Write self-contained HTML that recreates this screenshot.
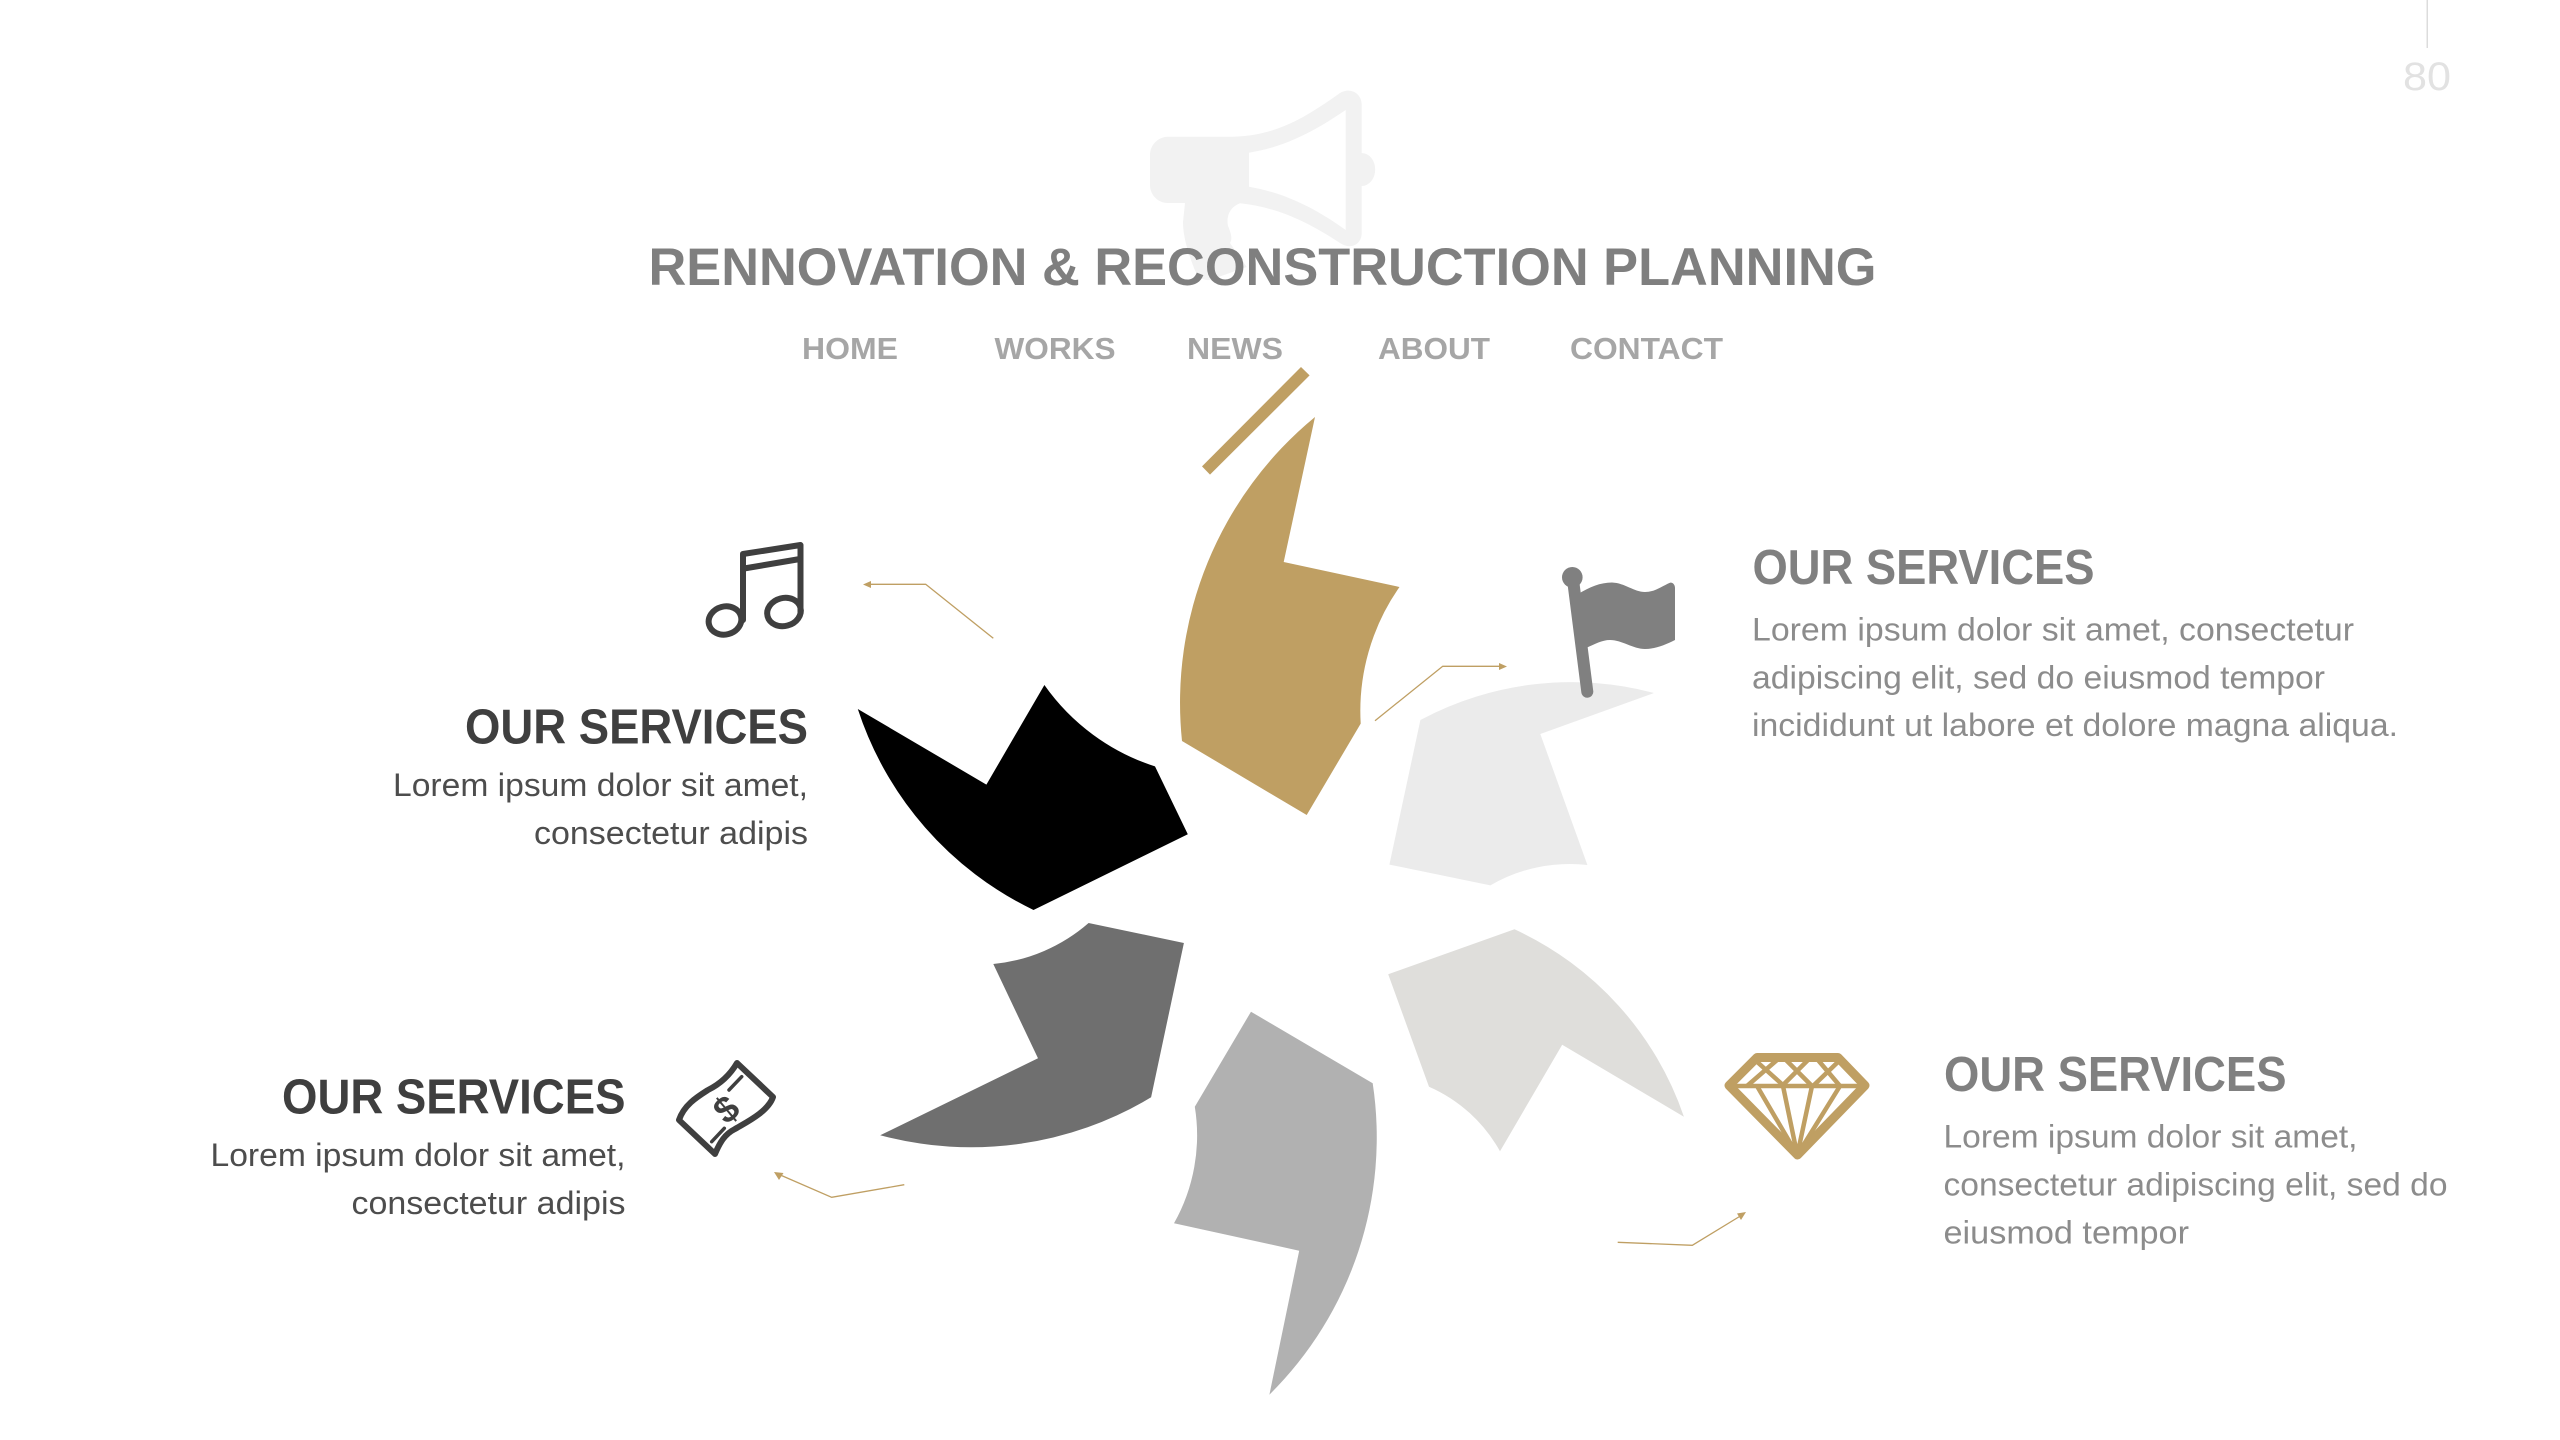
<!DOCTYPE html>
<html lang="en"><head><meta charset="utf-8"><title>Rennovation &amp; Reconstruction Planning</title>
<style>
html,body{margin:0;padding:0;background:#fff;width:2560px;height:1440px;overflow:hidden}
svg{display:block}
text{font-family:"Liberation Sans",sans-serif}
.h{font-weight:700;font-size:49px}
.b{font-size:32px}
.n{font-weight:700;font-size:31px;fill:#a6a6a6}
.a{fill:none;stroke:#bf9f63;stroke-width:1.3}
</style></head><body>
<svg width="2560" height="1440" viewBox="0 0 2560 1440" xmlns="http://www.w3.org/2000/svg">
<!-- page number -->
<rect x="2426.5" y="0" width="1.5" height="48" fill="#dcdcdc"/>
<text x="2403" y="90" font-size="40" fill="#e2e2e2" textLength="48" lengthAdjust="spacingAndGlyphs">80</text>

<!-- megaphone -->
<path fill="#f2f2f2" fill-rule="evenodd" d="M1168,136.7 L1233,136.7 C1275,136 1305,118 1340,93 C1350,87 1361.7,93 1361.7,105 L1361.7,153 A13.5,16.5 0 0 1 1361.7,186 L1361.7,233 C1361.7,245 1350,250 1340,243 C1305,220 1275,207 1240,203.3 C1230,207 1226,216 1228,226 C1232,235 1232,240 1230,243 C1236,252 1242,260 1246.7,267 L1210,280 C1202,281 1197,276 1194,268 C1187,250 1183,235 1183,222 L1185,203 L1168,203 C1158,203 1150,195 1150,185 L1150,155 C1150,145 1158,136.7 1168,136.7 Z M1249,152.7 C1285,147 1315,131 1345.7,110 L1345.7,230 C1315,208 1285,193 1249,186.7 Z"/>

<!-- title -->
<text x="648.5" y="285" font-size="53" font-weight="700" fill="#7f7f7f" textLength="1228" lengthAdjust="spacingAndGlyphs">RENNOVATION &amp; RECONSTRUCTION PLANNING</text>
<text class="n" x="802" y="359" textLength="96" lengthAdjust="spacingAndGlyphs">HOME</text>
<text class="n" x="994.5" y="359" textLength="121" lengthAdjust="spacingAndGlyphs">WORKS</text>
<text class="n" x="1187" y="359" textLength="96" lengthAdjust="spacingAndGlyphs">NEWS</text>
<text class="n" x="1378" y="359" textLength="112" lengthAdjust="spacingAndGlyphs">ABOUT</text>
<text class="n" x="1570" y="359" textLength="153" lengthAdjust="spacingAndGlyphs">CONTACT</text>

<!-- gold bar -->
<polygon fill="#bf9f63" points="1301,367 1309.6,375.4 1210,474.6 1202,466.4"/>

<!-- petals -->
<path fill="#bf9f63" d="M1182,741 A370,370 0 0 1 1315,417 L1283.7,562 L1399.5,587 A216,216 0 0 0 1360.7,723.6 L1306.7,815 Z"/>
<path fill="#000000" d="M857.8,709 L986.4,784.6 L1044.4,685 A216,216 0 0 0 1155,766.4 L1187.8,834.3 L1033.5,910 A340,340 0 0 1 857.8,709 Z"/>
<path fill="#ebebeb" d="M1420.4,720 A320,320 0 0 1 1654,693 L1540.3,734 L1587.4,865 A157,157 0 0 0 1490.4,885.4 L1389.4,864.6 Z"/>
<path fill="#dfdedb" d="M1514.5,929.3 A320,320 0 0 1 1683.9,1116.7 L1562.2,1044.7 L1500,1151.3 A150,150 0 0 0 1429,1086.7 L1388.2,974.3 Z"/>
<path fill="#b1b1b1" d="M1251,1011.7 L1372.7,1083.3 A362,362 0 0 1 1269.4,1394.7 L1299.2,1250.7 L1174,1223.3 A179,179 0 0 0 1194.8,1106.7 Z"/>
<path fill="#6f6f6f" d="M1088.6,923 L1183.9,943 L1151.1,1097.3 A350,350 0 0 1 880.2,1135.3 L1038,1058.3 L993.3,964 A170,170 0 0 0 1088.6,923 Z"/>

<!-- arrows -->
<polyline class="a" points="993.3,638.3 925.7,584.3 870,584.3"/>
<polygon fill="#bf9f63" points="863,584.5 871,581 871,588"/>
<polyline class="a" points="1375,720.7 1442.7,666.3 1500,666.3"/>
<polygon fill="#bf9f63" points="1507,666.5 1499,663 1499,670"/>
<polyline class="a" points="904.3,1184.7 831.7,1197.3 778,1174"/>
<polygon fill="#bf9f63" points="774,1172 783.5,1173 779,1180"/>
<polyline class="a" points="1617.7,1242.3 1692.3,1245.3 1742,1215"/>
<polygon fill="#bf9f63" points="1746,1212 1741,1220 1737,1213.5"/>

<!-- music icon -->
<g fill="none" stroke="#3f3f3f" stroke-width="6" stroke-linejoin="round" stroke-linecap="round">
<ellipse cx="725" cy="620.5" rx="16.5" ry="14" transform="rotate(-15 725 620.5)"/>
<ellipse cx="784" cy="612" rx="17" ry="14" transform="rotate(-15 784 612)"/>
<path d="M743,620 L743,554 L800.5,545 L800.5,612"/>
<path d="M744,568.5 L800,559" stroke-linecap="butt"/>
</g>

<!-- flag icon -->
<g fill="#808080">
<circle cx="1572.3" cy="577.3" r="10.3"/>
<path d="M1573.3,582 L1587.3,691.7" stroke="#808080" stroke-width="12" stroke-linecap="round" fill="none"/>
<path d="M1578,594 C1590,587 1600,582.5 1612,582.5 C1625,583 1634,592 1645,592 C1655,592 1662,586 1670,582.7 C1673,582 1675,585 1675,588 L1675,640 C1665,645 1655,649 1645,649 C1633,649 1622,640 1610,640 C1602,640 1595,644 1586,648 Z"/>
</g>

<!-- money icon -->
<g fill="none" stroke="#3f3f3f" stroke-width="6" stroke-linejoin="round" stroke-linecap="round">
<path d="M737,1063 L773,1097 C768,1112 745,1123 735,1129 C725,1134 720,1142 715,1154 L679,1120 C684,1105 697,1097 708,1090 C720,1084 730,1075 737,1063 Z"/>
<path d="M729,1090 L741.7,1076.7" stroke-width="3.5"/>
<path d="M711.7,1141.7 L724.3,1128.3" stroke-width="3.5"/>
</g>
<text x="726" y="1122" font-size="37" font-weight="700" fill="#3f3f3f" text-anchor="middle" transform="rotate(-40 726 1109)">$</text>

<!-- diamond icon -->
<g fill="none" stroke="#bf9f63" stroke-linejoin="round">
<polygon points="1757,1057.5 1838,1057.5 1865,1085.5 1797.5,1155 1729,1085.5" stroke-width="9"/>
<g stroke-width="4.5">
<path d="M1729,1086 L1865,1086"/>
<path d="M1755,1060 L1784,1086 M1777,1060 L1747,1086 M1786,1060 L1812,1086 M1808,1060 L1782,1086 M1818,1060 L1840,1086 M1840,1060 L1813,1086"/>
<path d="M1797.3,1155 L1757,1086 M1797.3,1155 L1783,1086 M1797.3,1155 L1812,1086 M1797.3,1155 L1840,1086"/>
</g>
</g>

<!-- left block top -->
<text class="h" x="465" y="743.5" fill="#3f3f3f" textLength="343" lengthAdjust="spacingAndGlyphs">OUR SERVICES</text>
<text class="b" x="393" y="796" fill="#4d4d4d" textLength="415" lengthAdjust="spacingAndGlyphs">Lorem ipsum dolor sit amet,</text>
<text class="b" x="534" y="844" fill="#4d4d4d" textLength="274" lengthAdjust="spacingAndGlyphs">consectetur adipis</text>

<!-- left block bottom -->
<text class="h" x="282" y="1113.5" fill="#3f3f3f" textLength="343.5" lengthAdjust="spacingAndGlyphs">OUR SERVICES</text>
<text class="b" x="210.5" y="1166" fill="#4d4d4d" textLength="415" lengthAdjust="spacingAndGlyphs">Lorem ipsum dolor sit amet,</text>
<text class="b" x="351.5" y="1214" fill="#4d4d4d" textLength="274" lengthAdjust="spacingAndGlyphs">consectetur adipis</text>

<!-- right block top -->
<text class="h" x="1752.5" y="584" fill="#808080" textLength="342" lengthAdjust="spacingAndGlyphs">OUR SERVICES</text>
<text class="b" x="1752" y="640.5" fill="#8c8c8c" textLength="602" lengthAdjust="spacingAndGlyphs">Lorem ipsum dolor sit amet, consectetur</text>
<text class="b" x="1752" y="688.5" fill="#8c8c8c" textLength="573" lengthAdjust="spacingAndGlyphs">adipiscing elit, sed do eiusmod tempor</text>
<text class="b" x="1752" y="736" fill="#8c8c8c" textLength="646" lengthAdjust="spacingAndGlyphs">incididunt ut labore et dolore magna aliqua.</text>

<!-- right block bottom -->
<text class="h" x="1944" y="1091" fill="#808080" textLength="342.5" lengthAdjust="spacingAndGlyphs">OUR SERVICES</text>
<text class="b" x="1943.5" y="1147.5" fill="#8c8c8c" textLength="414" lengthAdjust="spacingAndGlyphs">Lorem ipsum dolor sit amet,</text>
<text class="b" x="1943.5" y="1195.5" fill="#8c8c8c" textLength="504" lengthAdjust="spacingAndGlyphs">consectetur adipiscing elit, sed do</text>
<text class="b" x="1943.5" y="1243.5" fill="#8c8c8c" textLength="245.5" lengthAdjust="spacingAndGlyphs">eiusmod tempor</text>
</svg>
</body></html>
